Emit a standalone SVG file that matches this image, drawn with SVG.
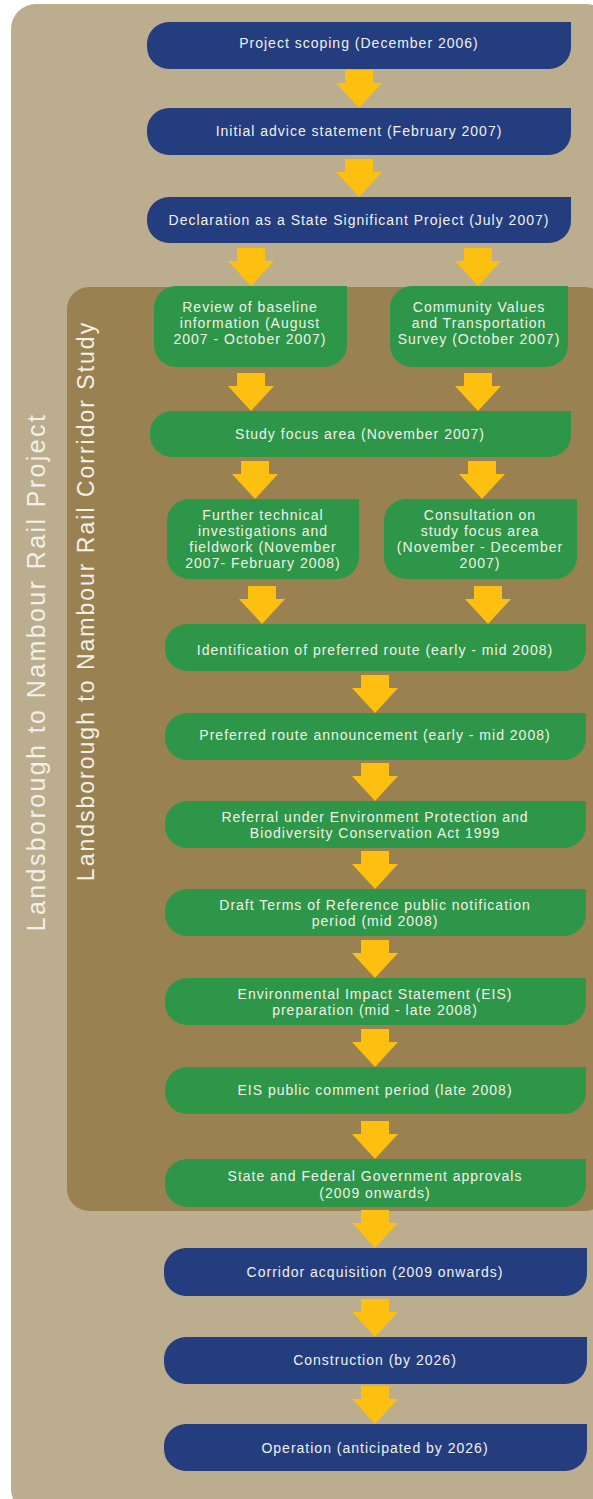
<svg xmlns="http://www.w3.org/2000/svg" xmlns:xlink="http://www.w3.org/1999/xlink" width="593" height="1499" viewBox="0 0 593 1499">
<defs>
<style>
.blue{fill:#233d7f}
.green{fill:#2e9648}
.t{font-family:"Liberation Sans",Arial,sans-serif;font-size:14px;letter-spacing:1px;fill:#f1f1e9;text-anchor:middle}
.v{font-family:"Liberation Sans",Arial,sans-serif;fill:#f1f1e9;text-anchor:middle}
.arrow{fill:#fdc010}
</style>
<path id="arr" d="M-14,0 H14 V13 H23 L0,38 L-23,13 H-14 Z"/>
</defs>
<rect width="593" height="1499" fill="#ffffff"/>
<rect x="11" y="4" width="600" height="1510" rx="25" fill="#bbad8e"/>
<rect x="67" y="287" width="540" height="924" rx="22" fill="#9a8152"/>
<text class="v" font-size="25" letter-spacing="2.4" transform="translate(45,672) rotate(-90)">Landsborough to Nambour Rail Project</text>
<text class="v" font-size="23" letter-spacing="2" transform="translate(94,601) rotate(-90)">Landsborough to Nambour Rail Corridor Study</text>
<g id="connectors" class="arrow">
<use xlink:href="#arr" transform="translate(359,70)"/>
<use xlink:href="#arr" transform="translate(359,159)"/>
<use xlink:href="#arr" transform="translate(251,248)"/>
<use xlink:href="#arr" transform="translate(478,248)"/>
<use xlink:href="#arr" transform="translate(251,373)"/>
<use xlink:href="#arr" transform="translate(478,373)"/>
<use xlink:href="#arr" transform="translate(255,461)"/>
<use xlink:href="#arr" transform="translate(482,461)"/>
<use xlink:href="#arr" transform="translate(262,586)"/>
<use xlink:href="#arr" transform="translate(488,586)"/>
<use xlink:href="#arr" transform="translate(375,675)"/>
<use xlink:href="#arr" transform="translate(375,763)"/>
<use xlink:href="#arr" transform="translate(375,851)"/>
<use xlink:href="#arr" transform="translate(375,940)"/>
<use xlink:href="#arr" transform="translate(375,1029)"/>
<use xlink:href="#arr" transform="translate(375,1121)"/>
<use xlink:href="#arr" transform="translate(375,1210)"/>
<use xlink:href="#arr" transform="translate(375,1299)"/>
<use xlink:href="#arr" transform="translate(375,1386)"/>
</g>
<g id="n1"><path class="blue" d="M169,22 H571 V47 A22,22 0 0 1 549,69 H169 A22,22 0 0 1 147,47 V44 A22,22 0 0 1 169,22 Z"/><text class="t" x="359" y="48">Project scoping (December 2006)</text></g>
<g id="n2"><path class="blue" d="M169,108 H571 V133 A22,22 0 0 1 549,155 H169 A22,22 0 0 1 147,133 V130 A22,22 0 0 1 169,108 Z"/><text class="t" x="359" y="136">Initial advice statement (February 2007)</text></g>
<g id="n3"><path class="blue" d="M169,197 H571 V221 A22,22 0 0 1 549,243 H169 A22,22 0 0 1 147,221 V219 A22,22 0 0 1 169,197 Z"/><text class="t" x="359" y="225">Declaration as a State Significant Project (July 2007)</text></g>
<g id="n4"><path class="green" d="M176,286 H347 V345 A22,22 0 0 1 325,367 H176 A22,22 0 0 1 154,345 V308 A22,22 0 0 1 176,286 Z"/><text class="t" x="250" y="312">Review of baseline</text><text class="t" x="250" y="328">information (August</text><text class="t" x="250" y="344">2007 - October 2007)</text></g>
<g id="n5"><path class="green" d="M412,286 H568 V345 A22,22 0 0 1 546,367 H412 A22,22 0 0 1 390,345 V308 A22,22 0 0 1 412,286 Z"/><text class="t" x="479" y="312">Community Values</text><text class="t" x="479" y="328">and Transportation</text><text class="t" x="479" y="344">Survey (October 2007)</text></g>
<g id="n6"><path class="green" d="M172,411 H571 V435 A22,22 0 0 1 549,457 H172 A22,22 0 0 1 150,435 V433 A22,22 0 0 1 172,411 Z"/><text class="t" x="360" y="439">Study focus area (November 2007)</text></g>
<g id="n7"><path class="green" d="M189,499 H359 V557 A22,22 0 0 1 337,579 H189 A22,22 0 0 1 167,557 V521 A22,22 0 0 1 189,499 Z"/><text class="t" x="263" y="520">Further technical</text><text class="t" x="263" y="536">investigations and</text><text class="t" x="263" y="552">fieldwork (November</text><text class="t" x="263" y="568">2007- February 2008)</text></g>
<g id="n8"><path class="green" d="M406,499 H577 V557 A22,22 0 0 1 555,579 H406 A22,22 0 0 1 384,557 V521 A22,22 0 0 1 406,499 Z"/><text class="t" x="480" y="520">Consultation on</text><text class="t" x="480" y="536">study focus area</text><text class="t" x="480" y="552">(November - December</text><text class="t" x="480" y="568">2007)</text></g>
<g id="n9"><path class="green" d="M187,624 H586 V649 A22,22 0 0 1 564,671 H187 A22,22 0 0 1 165,649 V646 A22,22 0 0 1 187,624 Z"/><text class="t" x="375" y="655">Identification of preferred route (early - mid 2008)</text></g>
<g id="n10"><path class="green" d="M187,713 H586 V738 A22,22 0 0 1 564,760 H187 A22,22 0 0 1 165,738 V735 A22,22 0 0 1 187,713 Z"/><text class="t" x="375" y="740">Preferred route announcement (early - mid 2008)</text></g>
<g id="n11"><path class="green" d="M187,801 H586 V826 A22,22 0 0 1 564,848 H187 A22,22 0 0 1 165,826 V823 A22,22 0 0 1 187,801 Z"/><text class="t" x="375" y="822">Referral under Environment Protection and</text><text class="t" x="375" y="838">Biodiversity Conservation Act 1999</text></g>
<g id="n12"><path class="green" d="M187,889 H586 V914 A22,22 0 0 1 564,936 H187 A22,22 0 0 1 165,914 V911 A22,22 0 0 1 187,889 Z"/><text class="t" x="375" y="910">Draft Terms of Reference public notification</text><text class="t" x="375" y="926">period (mid 2008)</text></g>
<g id="n13"><path class="green" d="M187,978 H586 V1003 A22,22 0 0 1 564,1025 H187 A22,22 0 0 1 165,1003 V1000 A22,22 0 0 1 187,978 Z"/><text class="t" x="375" y="999">Environmental Impact Statement (EIS)</text><text class="t" x="375" y="1015">preparation (mid - late 2008)</text></g>
<g id="n14"><path class="green" d="M187,1067 H586 V1092 A22,22 0 0 1 564,1114 H187 A22,22 0 0 1 165,1092 V1089 A22,22 0 0 1 187,1067 Z"/><text class="t" x="375" y="1095">EIS public comment period (late 2008)</text></g>
<g id="n15"><path class="green" d="M187,1159 H586 V1185 A22,22 0 0 1 564,1207 H187 A22,22 0 0 1 165,1185 V1181 A22,22 0 0 1 187,1159 Z"/><text class="t" x="375" y="1181">State and Federal Government approvals</text><text class="t" x="375" y="1198">(2009 onwards)</text></g>
<g id="n16"><path class="blue" d="M186,1248 H587 V1274 A22,22 0 0 1 565,1296 H186 A22,22 0 0 1 164,1274 V1270 A22,22 0 0 1 186,1248 Z"/><text class="t" x="375" y="1277">Corridor acquisition (2009 onwards)</text></g>
<g id="n17"><path class="blue" d="M186,1337 H587 V1362 A22,22 0 0 1 565,1384 H186 A22,22 0 0 1 164,1362 V1359 A22,22 0 0 1 186,1337 Z"/><text class="t" x="375" y="1365">Construction (by 2026)</text></g>
<g id="n18"><path class="blue" d="M186,1424 H587 V1449 A22,22 0 0 1 565,1471 H186 A22,22 0 0 1 164,1449 V1446 A22,22 0 0 1 186,1424 Z"/><text class="t" x="375" y="1453">Operation (anticipated by 2026)</text></g>
</svg>
